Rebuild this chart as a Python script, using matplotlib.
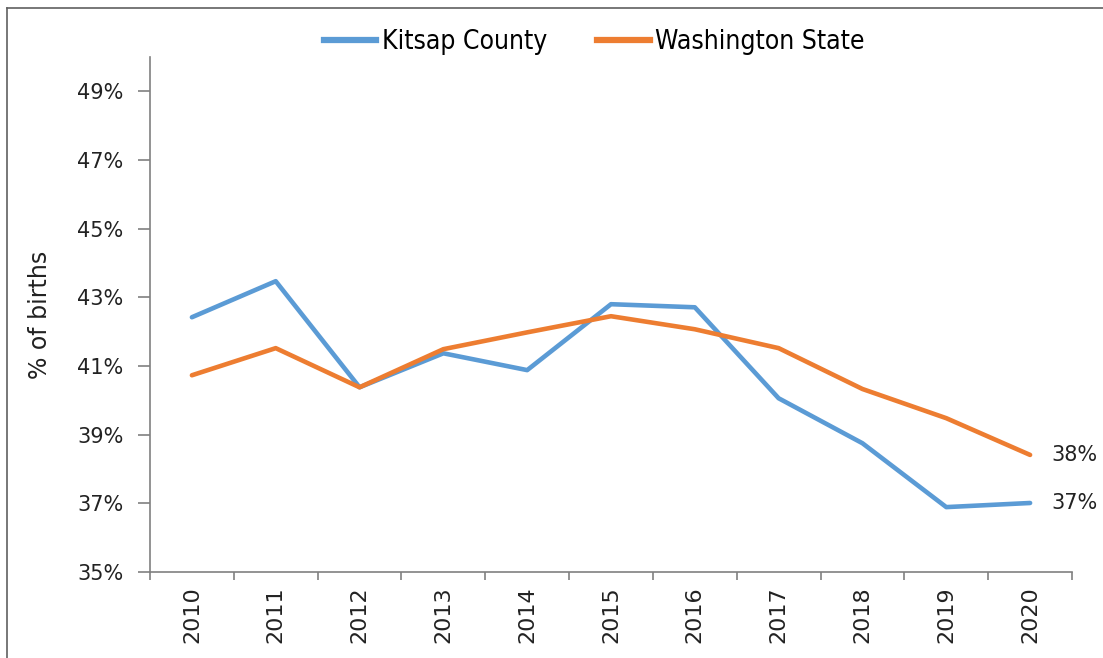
import matplotlib
matplotlib.use("Agg")
import matplotlib.pyplot as plt
from matplotlib.lines import Line2D
from matplotlib.ticker import FixedLocator

years = ["2010", "2011", "2012", "2013", "2014", "2015", "2016", "2017", "2018", "2019", "2020"]
kitsap = [42.42, 43.47, 40.38, 41.37, 40.88, 42.80, 42.71, 40.06, 38.75, 36.89, 37.01]
washington = [40.73, 41.52, 40.38, 41.49, 41.98, 42.45, 42.07, 41.52, 40.33, 39.48, 38.41]
series_names = ["Kitsap County", "Washington State"]
end_labels = ["37%", "38%"]
yticks = [35, 37, 39, 41, 43, 45, 47, 49]

plt.rcParams['font.family'] = ['DejaVu Sans']
W, H = 1103, 658
fig = plt.figure(figsize=(W/100, H/100), dpi=100)
ax = fig.add_axes([150/W, 1-572/H, (1072-150)/W, (572-57)/H])

x = list(range(len(years)))
blue = "#5B9BD5"
orange = "#ED7D31"
ax.plot(x, kitsap, color=blue, lw=3.3, solid_capstyle='round', solid_joinstyle='round', zorder=3)
ax.plot(x, washington, color=orange, lw=3.3, solid_capstyle='round', solid_joinstyle='round', zorder=4)

ax.set_xlim(-0.5, len(years)-0.5)
ax.set_ylim(35, 50)
ax.set_yticks(yticks)
ax.set_yticklabels([f"{v}%" for v in yticks], fontsize=15, color="#222222")
ax.set_xticks(x)
ax.set_xticklabels(years, rotation=90, fontsize=16, color="#222222")
ax.xaxis.set_minor_locator(FixedLocator([i - 0.5 for i in range(len(years)+1)]))
ax.tick_params(axis='x', which='major', length=0, pad=10)
ax.tick_params(axis='x', which='minor', length=6, width=1.2, color="#808080", direction='out')
ax.tick_params(axis='y', length=9, width=1.2, color="#808080", direction='out', pad=10)

for s in ['top', 'right']:
    ax.spines[s].set_visible(False)
for s in ['left', 'bottom']:
    ax.spines[s].set_color("#808080")
    ax.spines[s].set_linewidth(1.2)

ax.set_ylabel("% of births", fontsize=17, color="#222222", labelpad=18)

ax.annotate(end_labels[0], (x[-1], kitsap[-1]), xytext=(15, 0), textcoords='offset points',
            va='center', ha='left', fontsize=15, color="#222222")
ax.annotate(end_labels[1], (x[-1], washington[-1]), xytext=(15, 0), textcoords='offset points',
            va='center', ha='left', fontsize=15, color="#222222")

handles = [Line2D([0], [0], color=blue, lw=4.5), Line2D([0], [0], color=orange, lw=4.5)]
fig.legend(handles, series_names, loc='center', bbox_to_anchor=(594/W, 1-42/H), ncol=2,
           frameon=False, handlelength=2.0, handletextpad=0.2, columnspacing=1.9,
           prop={'family': ['DejaVu Sans'], 'stretch': 'condensed', 'size': 19})

# outer frame
fig.add_artist(Line2D([7/W, 7/W], [0, 1-8/H], color="#606060", lw=1.2, transform=fig.transFigure))
fig.add_artist(Line2D([7/W, 1], [1-8/H, 1-8/H], color="#606060", lw=1.2, transform=fig.transFigure))

fig.savefig("out.png", dpi=100)
